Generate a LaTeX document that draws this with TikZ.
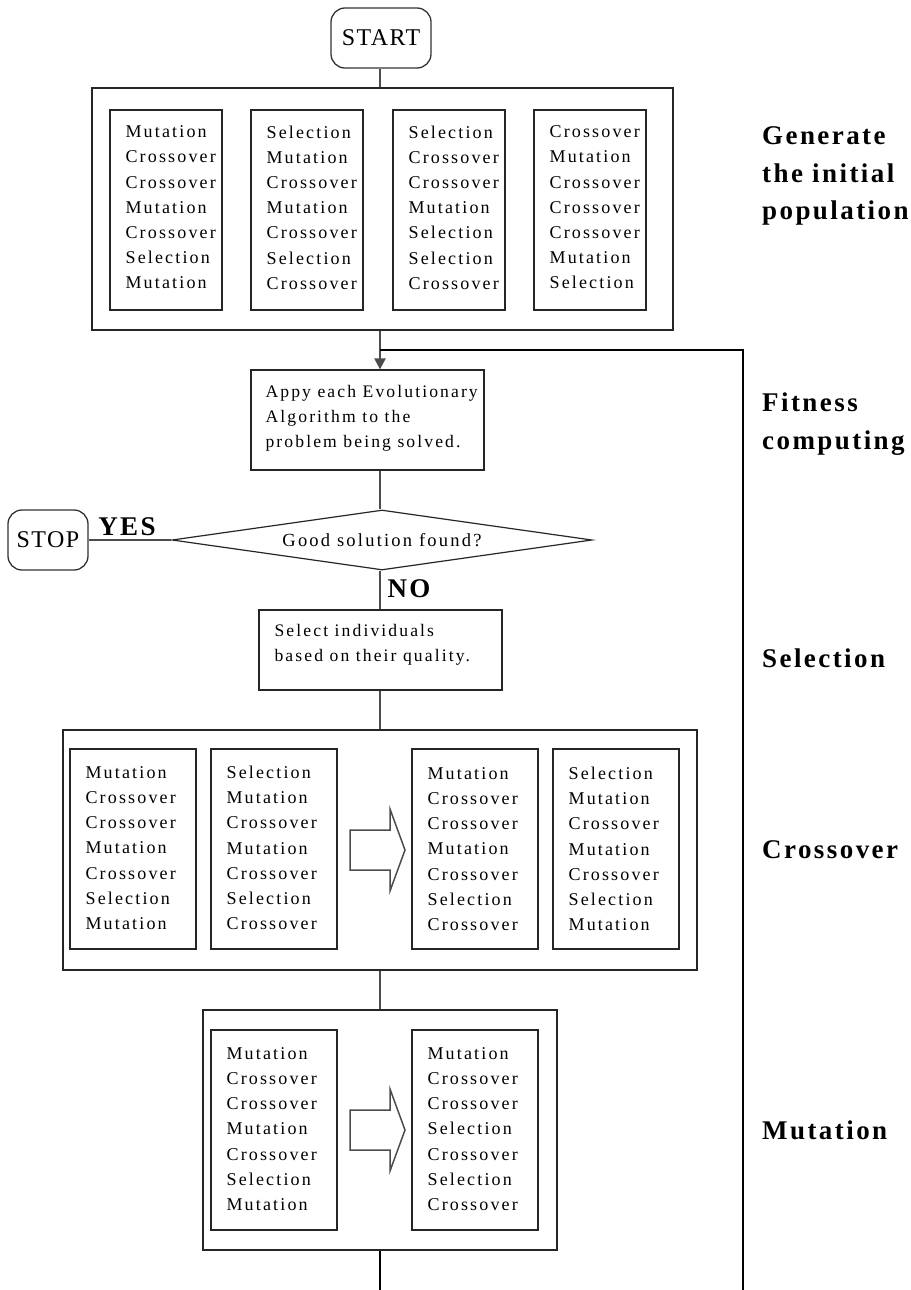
\documentclass[tikz,border=0pt]{standalone}
\usepackage{fontspec}
\setmainfont{Liberation Serif}
\newfontfamily\boxfont[LetterSpace=12]{Liberation Serif}
\newfontfamily\termfont[LetterSpace=6]{Liberation Serif}
\newfontfamily\labfont[LetterSpace=9]{Liberation Serif}
\usetikzlibrary{shapes.geometric,arrows.meta,calc}
\begin{document}
\begin{tikzpicture}[x=1pt,y=-1pt,
 gbox/.style={draw=black!85, line width=1.2pt, minimum width=112pt, minimum height=200pt, inner sep=0pt},
 wbox/.style={gbox, minimum width=126pt},
 outer/.style={draw=black!85, line width=1.6pt, inner sep=0pt},
 gtext/.style={font=\boxfont\fontsize{18}{25.2}\selectfont, align=left, inner sep=0pt, anchor=west},
 stext/.style={font=\boxfont\fontsize{17.6}{25}\selectfont, align=left, inner sep=0pt, anchor=west},
 term/.style={draw=black!80, line width=1.3pt, rounded corners=14pt, inner sep=0pt, font=\termfont\fontsize{24}{28}\selectfont},
 conn/.style={draw=black!70, line width=2.2pt},
 thinline/.style={draw=black, line width=1.2pt},
 lab/.style={font=\labfont\bfseries\fontsize{27}{37.5}\selectfont, align=left, anchor=west, inner sep=0pt},
 yn/.style={font=\labfont\bfseries\fontsize{27}{30}\selectfont, inner sep=0pt},
 hollow/.style={draw=black!70, line width=1.5pt, line join=miter},
 decision/.style={diamond, shape aspect=7, draw=black!85, line width=1.2pt, minimum width=420pt, minimum height=60pt, inner sep=0pt, font=\boxfont\fontsize{18.5}{20}\selectfont}
]
\useasboundingbox (0,0) rectangle (910,1290);

% START
\node[term, minimum width=100pt, minimum height=60pt] (start) at (381,38) {START};

% initial population
\node[outer, minimum width=581pt, minimum height=242pt] (init) at (382.5,209) {};
\node[gbox] (i1) at (166,210) {};
\node[gtext] (i1t) at ([xshift=16pt,yshift=2.5pt]i1.west) {Mutation\\Crossover\\Crossover\\Mutation\\Crossover\\Selection\\Mutation};
\node[gbox] (i2) at (307,210) {};
\node[gtext] (i2t) at ([xshift=16pt,yshift=2.5pt]i2.west) {Selection\\Mutation\\Crossover\\Mutation\\Crossover\\Selection\\Crossover};
\node[gbox] (i3) at (449,210) {};
\node[gtext] (i3t) at ([xshift=16pt,yshift=2.5pt]i3.west) {Selection\\Crossover\\Crossover\\Mutation\\Selection\\Selection\\Crossover};
\node[gbox] (i4) at (590,210) {};
\node[gtext] (i4t) at ([xshift=16pt,yshift=2.5pt]i4.west) {Crossover\\Mutation\\Crossover\\Crossover\\Crossover\\Mutation\\Selection};

% fitness
\node[draw=black!85, line width=1.2pt, minimum width=233pt, minimum height=100pt, inner sep=0pt] (fit) at (367.5,420) {};
\node[stext] (fitt) at ([xshift=15pt,yshift=2pt]fit.west) {Appy each Evolutionary\\Algorithm to the\\problem being solved.};

% decision
\node[decision] (dec) at (382,540) {Good solution found?};
\node[term, minimum width=80pt, minimum height=60pt] (stop) at (48,540) {STOP};

% selection
\node[draw=black!85, line width=1.2pt, minimum width=243pt, minimum height=80pt, inner sep=0pt] (sel) at (380.5,650) {};
\node[stext] (selt) at ([xshift=16pt,yshift=5.5pt]sel.west) {Select individuals\\based on their quality.};

% crossover
\node[outer, minimum width=634pt, minimum height=240pt] (cross) at (380,850) {};
\node[wbox] (c1) at (133,849) {};
\node[gtext] (c1t) at ([xshift=16pt,yshift=1pt]c1.west) {Mutation\\Crossover\\Crossover\\Mutation\\Crossover\\Selection\\Mutation};
\node[wbox] (c2) at (274,849) {};
\node[gtext] (c2t) at ([xshift=16pt,yshift=1pt]c2.west) {Selection\\Mutation\\Crossover\\Mutation\\Crossover\\Selection\\Crossover};
\node[wbox] (c3) at (475,849) {};
\node[gtext] (c3t) at ([xshift=16pt,yshift=0pt]c3.west) {Mutation\\Crossover\\Crossover\\Mutation\\Crossover\\Selection\\Crossover};
\node[wbox] (c4) at (616,849) {};
\node[gtext] (c4t) at ([xshift=16pt,yshift=0pt]c4.west) {Selection\\Mutation\\Crossover\\Mutation\\Crossover\\Selection\\Mutation};
\coordinate (ca) at (350,850);
\draw[hollow] (ca) ++(0,-20) -- ++(40,0) -- ++(0,-21) -- ++(15,41) -- ++(-15,41) -- ++(0,-21) -- ++(-40,0) -- cycle;

% mutation
\node[outer, minimum width=354pt, minimum height=240pt] (mut) at (380,1130) {};
\node[wbox] (m1) at (274,1130) {};
\node[gtext] (m1t) at ([xshift=16pt,yshift=1pt]m1.west) {Mutation\\Crossover\\Crossover\\Mutation\\Crossover\\Selection\\Mutation};
\node[wbox] (m2) at (475,1130) {};
\node[gtext] (m2t) at ([xshift=16pt,yshift=1pt]m2.west) {Mutation\\Crossover\\Crossover\\Selection\\Crossover\\Selection\\Crossover};
\coordinate (ma) at (350,1130);
\draw[hollow] (ma) ++(0,-20) -- ++(40,0) -- ++(0,-21) -- ++(15,41) -- ++(-15,41) -- ++(0,-21) -- ++(-40,0) -- cycle;

% connectors
\coordinate (bottom) at (380,1290);
\coordinate (loopbot) at (743,1290);
\coordinate (looptop) at (743,350);
\coordinate (join) at (380,350);
\draw[conn] (start.south -| join) -- (init.north -| join);
\draw[conn] (init.south -| join) -- (join);
\draw[conn, -{Triangle[width=11pt,length=11pt]}] (join) -- (fit.north -| join);
\draw[thinline] (loopbot) -- (looptop) -- (join);
\draw[conn] (fit.south -| join) -- (dec.north -| join);
\draw[conn] (dec.west) -- (stop.east);
\draw[conn] (dec.south -| join) -- (sel.north -| join);
\draw[conn] (sel.south -| join) -- (cross.north -| join);
\draw[conn] (cross.south -| join) -- (mut.north -| join);
\draw[conn, draw=black] (mut.south -| join) -- (bottom);

% labels
\node[yn] (yes) at (127,527) {YES};
\node[yn] (no) at (409,589) {NO};
\node[lab] (l1) at (762,176) {Generate\\the initial\\population};
\node[lab] (l2) at (762,424) {Fitness\\computing};
\node[lab] (l3) at (762,658) {Selection};
\node[lab] (l4) at (762,850) {Crossover};
\node[lab] (l5) at (762,1130) {Mutation};
\end{tikzpicture}
\end{document}
